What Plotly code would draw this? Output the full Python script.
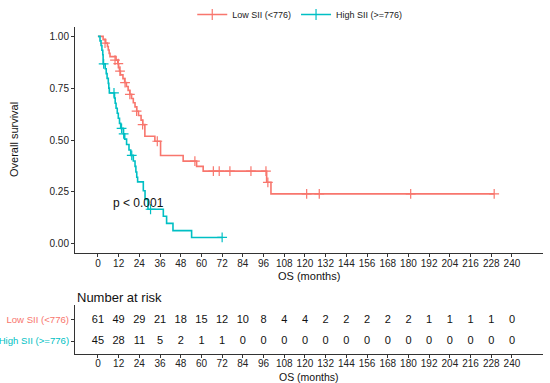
import plotly.graph_objects as go

# ---- data ----
low_time = [0, 3.0, 4.5, 5.5, 6.0, 6.5, 7.0, 10.5, 11.5, 12.0, 12.5, 13.0, 14.5, 15.5, 16.5, 17.5,
            18.5, 19.5, 20.5, 21.5, 22.5, 23.5, 25.0, 26.0, 27.2, 33.0, 36.3, 49.4, 57.2, 61.0,
            97.8, 100.3, 229.7]
low_surv = [1.0, 0.984, 0.967, 0.951, 0.934, 0.918, 0.902, 0.885, 0.868, 0.850, 0.832, 0.814,
            0.796, 0.777, 0.758, 0.739, 0.720, 0.700, 0.680, 0.660, 0.639, 0.618, 0.596, 0.574,
            0.518, 0.494, 0.425, 0.398, 0.373, 0.350, 0.296, 0.240, 0.240]
low_cens_time = [4.1, 9.9, 11.8, 12.8, 15.7, 18.5, 22.4, 25.9, 34.4, 56.2, 66.9, 70.3, 76.5,
                 88.7, 97.4, 98.5, 121.0, 128.3, 181.3, 229.7]
low_cens_surv = [0.967, 0.885, 0.868, 0.832, 0.777, 0.720, 0.639, 0.574, 0.494, 0.398, 0.350,
                 0.350, 0.350, 0.350, 0.350, 0.296, 0.240, 0.240, 0.240, 0.240]

high_time = [0, 1.2, 1.8, 2.3, 2.8, 3.0, 4.2, 4.8, 5.3, 6.0, 6.3, 6.6, 9.6, 10.0, 10.5, 11.2,
             11.8, 12.5, 13.2, 14.7, 15.5, 16.6, 18.0, 19.0, 20.5, 21.5, 22.0, 22.5, 23.0, 26.3,
             27.3, 29.0, 37.9, 39.8, 43.5, 54.3, 72.0]
high_surv = [1.0, 0.978, 0.956, 0.933, 0.911, 0.867, 0.844, 0.820, 0.797, 0.773, 0.750, 0.727,
             0.702, 0.677, 0.653, 0.629, 0.605, 0.580, 0.556, 0.530, 0.504, 0.478, 0.452, 0.426,
             0.399, 0.373, 0.346, 0.320, 0.298, 0.255, 0.213, 0.166, 0.132, 0.098, 0.063, 0.030,
             0.030]
high_cens_time = [3.3, 9.3, 13.7, 14.9, 19.6, 30.5, 72.0]
high_cens_surv = [0.867, 0.727, 0.556, 0.530, 0.426, 0.166, 0.030]

risk_times = list(range(0, 241, 12))
risk_low = [61, 49, 29, 21, 18, 15, 12, 10, 8, 4, 4, 2, 2, 2, 2, 2, 1, 1, 1, 1, 0]
risk_high = [45, 28, 11, 5, 2, 1, 1, 0, 0, 0, 0, 0, 0, 0, 0, 0, 0, 0, 0, 0, 0]

groups = ["Low SII (<776)", "High SII (>=776)"]
colors = ["#F8766D", "#00BFC4"]
y_labels = ["Overall survival", "Number at risk", "OS (months)"]

FONT = "Arial, Liberation Sans, sans-serif"
W, H = 550, 383

fig = go.Figure()

series = [(low_time, low_surv, low_cens_time, low_cens_surv),
          (high_time, high_surv, high_cens_time, high_cens_surv)]
for (t, s, ct, cs), name, col in zip(series, groups, colors):
    fig.add_trace(go.Scatter(x=t, y=s, mode="lines", line=dict(color=col, width=1.6, shape="hv"),
                             showlegend=False, hoverinfo="skip", xaxis="x", yaxis="y"))
    fig.add_trace(go.Scatter(x=ct, y=cs, mode="markers",
                             marker=dict(symbol="cross-thin", size=7, color=col,
                                         line=dict(color=col, width=1.2)),
                             showlegend=False, xaxis="x", yaxis="y"))
    fig.add_trace(go.Scatter(x=[None], y=[None], mode="lines+markers", name=name,
                             line=dict(color=col, width=1.6),
                             marker=dict(symbol="cross-thin", size=8, color=col,
                                         line=dict(color=col, width=1.2)),
                             xaxis="x", yaxis="y"))

# risk table
row_pos = [0.694, 0.265]
for counts, yp in zip([risk_low, risk_high], row_pos):
    fig.add_trace(go.Scatter(x=risk_times, y=[yp] * len(risk_times), mode="text",
                             text=[str(c) for c in counts],
                             textfont=dict(family=FONT, size=11, color="#111"),
                             showlegend=False, xaxis="x2", yaxis="y2"))

xdom = [75 / W, 543 / W]
axis_common = dict(showline=True, linecolor="#333", linewidth=1, ticks="outside",
                   ticklen=3, tickcolor="#333", showgrid=False, zeroline=False,
                   automargin=False)
tickf = dict(family=FONT, size=10, color="#222")

fig.update_layout(
    width=W, height=H,
    margin=dict(l=0, r=0, t=0, b=0, pad=0, autoexpand=False),
    paper_bgcolor="white", plot_bgcolor="white",
    xaxis=dict(domain=xdom, range=[-13.3, 258], tickvals=risk_times, anchor="y",
               tickfont=tickf, ticklabelstandoff=-2, **axis_common),
    yaxis=dict(domain=[1 - 253 / H, 1 - 27 / H], range=[-0.045, 1.045],
               tickvals=[0, 0.25, 0.5, 0.75, 1.0],
               ticktext=["0.00", "0.25", "0.50", "0.75", "1.00"], anchor="x",
               tickfont=tickf, **axis_common),
    xaxis2=dict(domain=xdom, range=[-13.3, 258], tickvals=risk_times, anchor="y2",
                tickfont=tickf, ticklabelstandoff=-3, **axis_common),
    yaxis2=dict(domain=[1 - 354 / H, 1 - 305 / H], range=[0, 1], tickvals=row_pos,
                ticktext=[f"<span style='color:{c}'>{g}</span>" for g, c in zip(groups, colors)],
                anchor="x2", tickfont=dict(family=FONT, size=9.6), **axis_common),
    legend=dict(orientation="h", x=0.545, xanchor="center", y=1.0, yanchor="top",
                font=dict(family=FONT, size=9, color="#222"), bgcolor="rgba(0,0,0,0)",
                itemwidth=30, tracegroupgap=0),
    annotations=[
        dict(text=y_labels[0], x=14 / W, y=1 - 140 / H, xref="paper", yref="paper",
             xanchor="center", yanchor="middle",
             textangle=-90, showarrow=False, font=dict(family=FONT, size=11, color="#111")),
        dict(text=y_labels[2], x=309 / W, y=1 - 276 / H, xref="paper", yref="paper",
             xanchor="center", yanchor="middle",
             showarrow=False, font=dict(family=FONT, size=11, color="#111")),
        dict(text=y_labels[2], x=309 / W, y=1 - 377 / H, xref="paper", yref="paper",
             xanchor="center", yanchor="middle",
             showarrow=False, font=dict(family=FONT, size=10.5, color="#111")),
        dict(text=y_labels[1], x=75 / W, y=1 - 297 / H, xref="paper", yref="paper",
             xanchor="left", yanchor="middle",
             showarrow=False, font=dict(family=FONT, size=13, color="#111")),
        dict(text="p < 0.001", x=7.5, y=0.195, xref="x", yref="y", xanchor="left",
             yanchor="middle",
             showarrow=False, font=dict(family=FONT, size=12, color="#111")),
    ],
)

fig.write_html("out.html", config={"displayModeBar": False},
               post_script="document.body.style.margin='0';")
